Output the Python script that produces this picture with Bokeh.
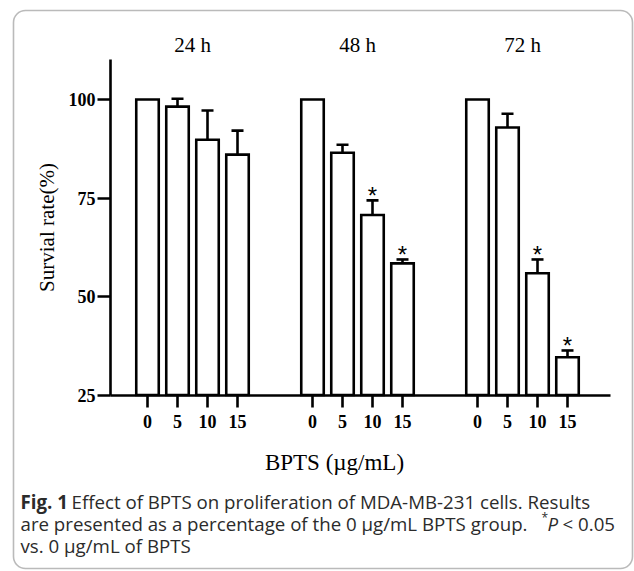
from bokeh.plotting import figure
from bokeh.models import Range1d, FixedTicker, Label, BoxAnnotation, ColumnDataSource
from bokeh.core.properties import value
from bokeh.embed import file_html
from bokeh.resources import INLINE

# ---------------- data ----------------
times = ["24 h", "48 h", "72 h"]
doses = ["0", "5", "10", "15"]
survival_24h = [100.0, 98.2, 89.8, 86.0]
sd_24h = [0.0, 2.0, 7.4, 6.1]
survival_48h = [100.0, 86.5, 70.7, 58.4]
sd_48h = [0.0, 2.0, 3.7, 1.0]
survival_72h = [100.0, 92.9, 55.9, 34.6]
sd_72h = [0.0, 3.5, 3.5, 1.7]
significant_24h = [False, False, False, False]
significant_48h = [False, False, True, True]
significant_72h = [False, False, True, True]
y_ticks = [25, 50, 75, 100]

# ---------------- layout constants ----------------
W, H = 634, 571
GROUP_STEP = 5.5
BAR_W = 0.75
CAP_HALF = 0.2
SERIF = "Liberation Serif"
SANS = "Open Sans"
X_LO, X_HI = -1.233, 15.433     # visible x axis extent
Y_LO, Y_HI = 25, 110.1          # visible y axis extent

means = [survival_24h, survival_48h, survival_72h]
sds = [sd_24h, sd_48h, sd_72h]
sigs = [significant_24h, significant_48h, significant_72h]

xs, tops, errs, labels, sig = [], [], [], [], []
for g in range(len(times)):
    for i, d in enumerate(doses):
        xs.append(g * GROUP_STEP + i)
        tops.append(means[g][i])
        errs.append(sds[g][i])
        labels.append(d)
        sig.append(sigs[g][i])

p = figure(width=W, height=H, output_backend="svg", toolbar_location=None,
           x_range=Range1d(-4.9, 16.2333), y_range=Range1d(-19.797, 125.127),
           min_border=0, min_border_left=0, min_border_right=0,
           min_border_top=0, min_border_bottom=0)
p.grid.visible = False
p.outline_line_color = None
p.background_fill_color = "white"
p.border_fill_color = "white"

bars = ColumnDataSource(dict(x=xs, top=tops))
p.vbar(x="x", top="top", bottom=Y_LO, width=BAR_W, source=bars,
       fill_color="white", line_color="black", line_width=2.6, line_join="miter")

ex = [x for x, e in zip(xs, errs) if e > 0]
e0 = [t for t, e in zip(tops, errs) if e > 0]
e1 = [t + e for t, e in zip(tops, errs) if e > 0]
p.segment(x0=ex, y0=e0, x1=ex, y1=e1, line_color="black", line_width=2.6)
p.segment(x0=[x - CAP_HALF for x in ex], y0=e1, x1=[x + CAP_HALF for x in ex], y1=e1,
          line_color="black", line_width=2.6)

sx = [x for x, s in zip(xs, sig) if s]
sy = [t + e for t, e, s in zip(tops, errs, sig) if s]
p.text(x=sx, y=sy, text=["*"] * len(sx), text_font=value("Liberation Sans"),
       text_font_size="24px", text_align="center", text_baseline="alphabetic",
       y_offset=-5, text_color="black")

# axes (drawn at fixed locations inside the frame)
xa = p.xaxis[0]
xa.fixed_location = Y_LO
xa.bounds = (X_LO, X_HI)
xa.ticker = FixedTicker(ticks=xs)
xa.major_label_overrides = {float(x): l for x, l in zip(xs, labels)}
xa.minor_tick_line_color = None
xa.major_tick_in = 0
xa.major_tick_out = 12
xa.major_tick_line_width = 2.6
xa.axis_line_width = 2.6
xa.major_label_text_font = SERIF
xa.major_label_text_font_style = "bold"
xa.major_label_text_font_size = "18px"
xa.major_label_standoff = 8
xa.major_label_text_color = "black"

ya = p.yaxis[0]
ya.fixed_location = X_LO
ya.bounds = (Y_LO, Y_HI)
ya.ticker = FixedTicker(ticks=y_ticks)
ya.minor_tick_line_color = None
ya.major_tick_in = 0
ya.major_tick_out = 13
ya.major_tick_line_width = 2.6
ya.axis_line_width = 2.6
ya.major_label_text_font = SERIF
ya.major_label_text_font_style = "bold"
ya.major_label_text_font_size = "18px"
ya.major_label_standoff = 2
ya.major_label_text_color = "black"
ya.axis_label = "Survial rate(%)"
ya.axis_label_text_font = SERIF
ya.axis_label_text_font_style = "normal"
ya.axis_label_text_font_size = "21px"
ya.axis_label_standoff = 7
ya.axis_label_text_color = "black"

# group titles
for g, t in enumerate(times):
    p.add_layout(Label(x=g * GROUP_STEP + 1.5, y=H - 44, y_units="screen", text=t,
                       text_font=SERIF, text_font_size="21px", text_align="center",
                       text_baseline="alphabetic", text_color="black"))

# x axis title
p.add_layout(Label(x=334, y=H - 462, x_units="screen", y_units="screen",
                   text="BPTS (\u00b5g/mL)", text_font=SERIF, text_font_size="23px",
                   text_align="center", text_baseline="middle", text_color="black"))

# caption
CAP_COL = "#2b2b2b"
CAP_SIZE = "18.7px"
def cap(x, y_page, text, style="normal", size=CAP_SIZE):
    p.add_layout(Label(x=x, y=H - y_page, x_units="screen", y_units="screen", text=text,
                       text_font=SANS, text_font_size=size, text_font_style=style,
                       text_align="left", text_baseline="alphabetic", text_color=CAP_COL))

cap(20, 501, "Fig. 1", style="bold")
cap(71, 501, "Effect of BPTS on proliferation of MDA-MB-231 cells. Results")
cap(20, 523, "are presented as a percentage of the 0 \u00b5g/mL BPTS group.")
cap(541, 517, "*", size="12px")
cap(547, 523, "P", style="italic")
cap(562, 523, "< 0.05")
cap(20, 545, "vs. 0 \u00b5g/mL of BPTS")

# rounded frame
p.add_layout(BoxAnnotation(left=13, right=632, top=H - 10, bottom=H - 568,
                           left_units="screen", right_units="screen",
                           top_units="screen", bottom_units="screen",
                           fill_color=None, line_color="#1a1a1a", line_width=1.6,
                           border_radius=12))

open("out.html", "w").write(file_html(p, INLINE))
